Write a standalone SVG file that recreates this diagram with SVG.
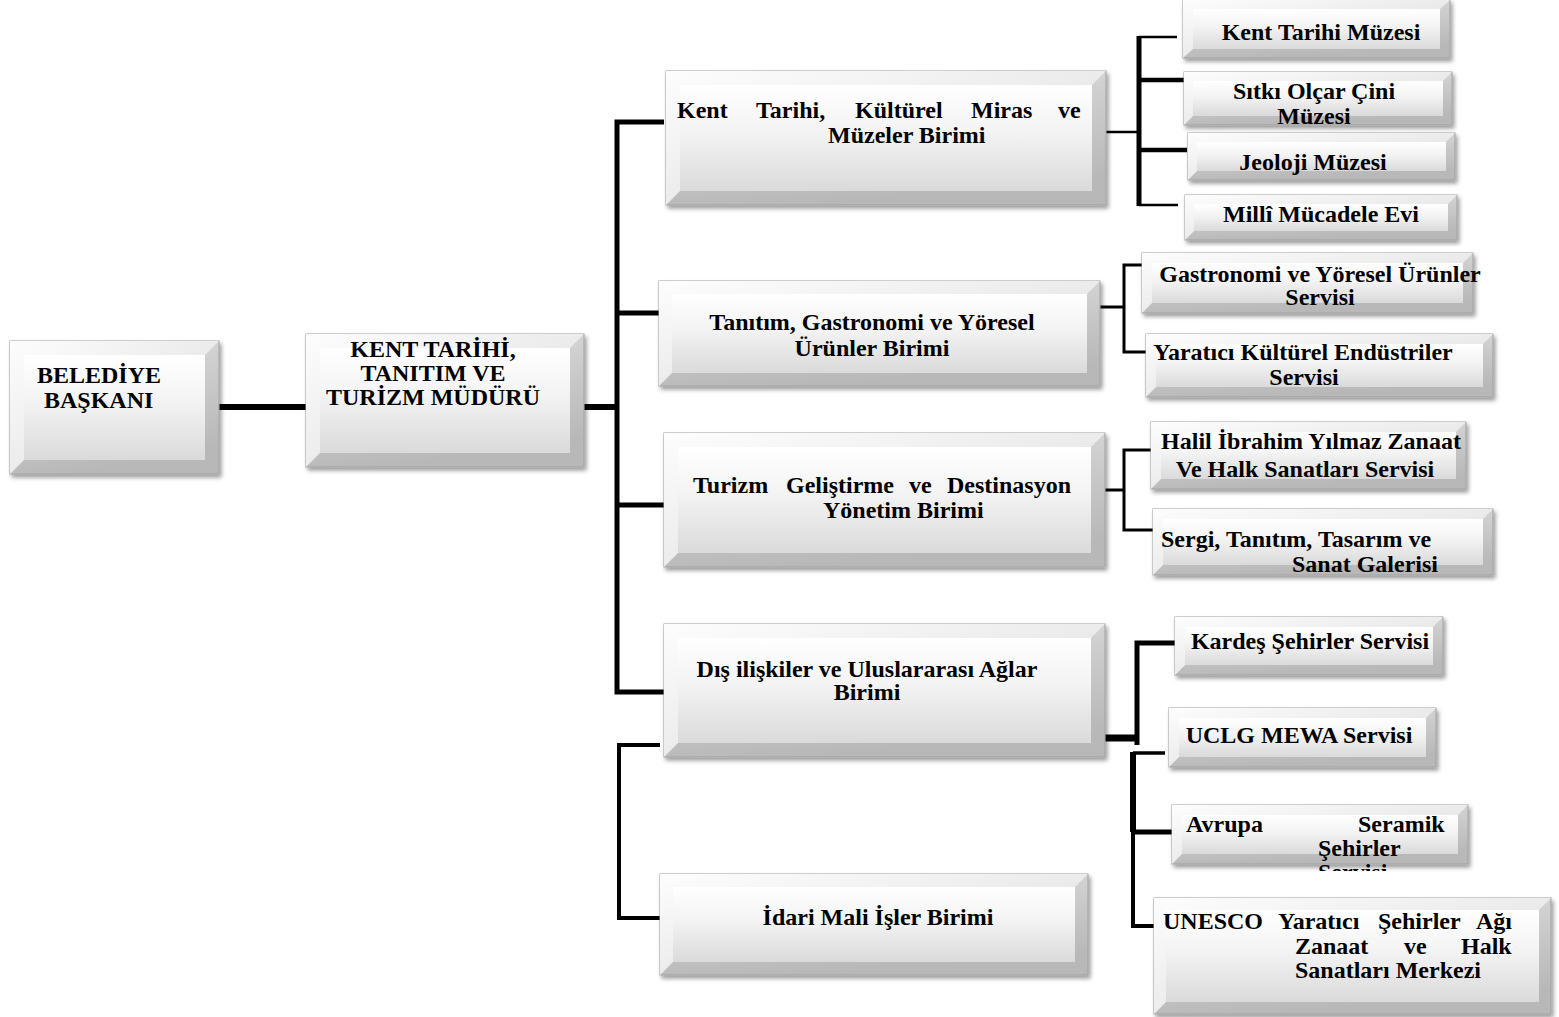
<svg xmlns="http://www.w3.org/2000/svg" width="1559" height="1017" viewBox="0 0 1559 1017">
<defs>
<linearGradient id="gFrame" x1="0" y1="0" x2="0.3" y2="1">
<stop offset="0" stop-color="#dedede"/><stop offset="1" stop-color="#b8b8b8"/>
</linearGradient>
<linearGradient id="gLight" x1="0" y1="0" x2="1" y2="1">
<stop offset="0" stop-color="#fdfdfd"/><stop offset="1" stop-color="#dadada"/>
</linearGradient>
<linearGradient id="gFace" x1="0" y1="0" x2="0" y2="1">
<stop offset="0" stop-color="#ffffff"/><stop offset="0.45" stop-color="#f3f3f3"/><stop offset="1" stop-color="#dadada"/>
</linearGradient>
<filter id="sh" x="-5%" y="-10%" width="112%" height="125%">
<feDropShadow dx="2" dy="3" stdDeviation="2" flood-color="#000" flood-opacity="0.4"/>
</filter>
<clipPath id="clipAvr"><rect x="1170" y="800" width="310" height="71"/></clipPath>
</defs>
<style>
.frame{fill:url(#gFrame);stroke:#a0a0a0;stroke-width:1;filter:url(#sh)}
.light{fill:url(#gLight)}
.face{fill:url(#gFace)}
.t{font-family:"Liberation Serif","Times New Roman",serif;font-weight:bold;font-size:24px;fill:#000}
.c{text-anchor:middle}
.e{text-anchor:end}
.ln{fill:none;stroke:#000;stroke-linejoin:miter;stroke-linecap:butt}
</style>
<rect width="1559" height="1017" fill="#fff"/>

<g id="connectors">
<path class="ln" stroke-width="6" d="M218 407 H306"/>
<path class="ln" stroke-width="6" d="M584 407 H617"/>
<path class="ln" stroke-width="5" d="M664 122 H617 V692 H664"/>
<path class="ln" stroke-width="5" d="M617 313 H659"/>
<path class="ln" stroke-width="5" d="M617 505 H664"/>
<path class="ln" stroke-width="4" d="M660 745 H619 V918 H660"/>
<path class="ln" stroke-width="2.5" d="M1100 132 H1139"/>
<path class="ln" stroke-width="5" d="M1139 36 V206"/>
<path class="ln" stroke-width="2.5" d="M1139 37 H1177"/>
<path class="ln" stroke-width="4.5" d="M1139 80 H1184"/>
<path class="ln" stroke-width="4.5" d="M1139 150 H1187"/>
<path class="ln" stroke-width="2.5" d="M1139 205 H1178"/>
<path class="ln" stroke-width="3" d="M1100 307 H1124"/>
<path class="ln" stroke-width="3" d="M1143 265 H1124 V352 H1147"/>
<path class="ln" stroke-width="3" d="M1098 490 H1124"/>
<path class="ln" stroke-width="3" d="M1151 450 H1124 V530 H1153"/>
<path class="ln" stroke-width="7" d="M1097 738 H1137"/>
<path class="ln" stroke-width="5" d="M1175 643 H1137 V745"/>
<path class="ln" stroke-width="3.5" d="M1133 753 H1165"/>
<path class="ln" stroke-width="6" d="M1133 752 V832"/>
<path class="ln" stroke-width="4" d="M1133 830 V926 H1155"/>
<path class="ln" stroke-width="5" d="M1133 832 H1173"/>
</g>

<g id="n-baskan">
<rect class="frame" x="10" y="341" width="209" height="133"/>
<polygon class="light" points="10,341 219,341 205,355 24,355 24,460 10,474"/>
<rect class="face" x="24" y="355" width="181" height="105"/>
<text class="t" x="37" y="383">BELEDİYE</text>
<text class="t" x="44" y="408">BAŞKANI</text>
</g>

<g id="n-mudur">
<rect class="frame" x="306" y="334" width="278" height="133"/>
<polygon class="light" points="306,334 584,334 570,348 320,348 320,453 306,467"/>
<rect class="face" x="320" y="348" width="250" height="105"/>
<text class="t c" x="433" y="357">KENT TARİHİ,</text>
<text class="t c" x="433" y="381">TANITIM VE</text>
<text class="t c" x="433" y="405">TURİZM MÜDÜRÜ</text>
</g>

<g id="n-kentbirim">
<rect class="frame" x="666" y="71" width="440" height="134"/>
<polygon class="light" points="666,71 1106,71 1092,85 680,85 680,191 666,205"/>
<rect class="face" x="680" y="85" width="412" height="106"/>
<text class="t" y="118"><tspan x="677">Kent</tspan><tspan x="756">Tarihi,</tspan><tspan x="855">Kültürel</tspan><tspan x="971">Miras</tspan><tspan x="1058">ve</tspan></text>
<text class="t" x="828" y="143">Müzeler Birimi</text>
</g>

<g id="n-tanitim">
<rect class="frame" x="659" y="281" width="441" height="105"/>
<polygon class="light" points="659,281 1100,281 1087,294 672,294 672,373 659,386"/>
<rect class="face" x="672" y="294" width="415" height="79"/>
<text class="t c" x="872" y="330">Tanıtım, Gastronomi ve Yöresel</text>
<text class="t c" x="872" y="356">Ürünler Birimi</text>
</g>

<g id="n-turizm">
<rect class="frame" x="664" y="433" width="441" height="134"/>
<polygon class="light" points="664,433 1105,433 1091,447 678,447 678,553 664,567"/>
<rect class="face" x="678" y="447" width="413" height="106"/>
<text class="t" y="493"><tspan x="693">Turizm</tspan><tspan x="786">Geliştirme</tspan><tspan x="909">ve</tspan><tspan x="947">Destinasyon</tspan></text>
<text class="t" x="823" y="518">Yönetim Birimi</text>
</g>

<g id="n-dis">
<rect class="frame" x="664" y="624" width="441" height="133"/>
<polygon class="light" points="664,624 1105,624 1091,638 678,638 678,743 664,757"/>
<rect class="face" x="678" y="638" width="413" height="105"/>
<text class="t c" x="867" y="677">Dış ilişkiler ve Uluslararası Ağlar</text>
<text class="t c" x="867" y="700">Birimi</text>
</g>

<g id="n-idari">
<rect class="frame" x="660" y="874" width="428" height="101"/>
<polygon class="light" points="660,874 1088,874 1075,887 673,887 673,962 660,975"/>
<rect class="face" x="673" y="887" width="402" height="75"/>
<text class="t c" x="878" y="925">İdari Mali İşler Birimi</text>
</g>

<g id="n-kentmuzesi">
<rect class="frame" x="1183" y="0" width="267" height="58"/>
<polygon class="light" points="1183,0 1450,0 1440,9 1193,9 1193,49 1183,58"/>
<rect class="face" x="1193" y="9" width="247" height="40"/>
<text class="t c" x="1321" y="40">Kent Tarihi Müzesi</text>
</g>

<g id="n-sitki">
<rect class="frame" x="1184" y="72" width="268" height="53"/>
<polygon class="light" points="1184,72 1452,72 1443,81 1193,81 1193,116 1184,125"/>
<rect class="face" x="1193" y="81" width="250" height="35"/>
<text class="t c" x="1314" y="99">Sıtkı Olçar Çini</text>
<text class="t c" x="1314" y="124">Müzesi</text>
</g>

<g id="n-jeoloji">
<rect class="frame" x="1188" y="133" width="267" height="47"/>
<polygon class="light" points="1188,133 1455,133 1446,142 1197,142 1197,171 1188,180"/>
<rect class="face" x="1197" y="142" width="249" height="29"/>
<text class="t c" x="1313" y="170">Jeoloji Müzesi</text>
</g>

<g id="n-milli">
<rect class="frame" x="1185" y="195" width="272" height="45"/>
<polygon class="light" points="1185,195 1457,195 1448,204 1194,204 1194,231 1185,240"/>
<rect class="face" x="1194" y="204" width="254" height="27"/>
<text class="t c" x="1321" y="222">Millî Mücadele Evi</text>
</g>

<g id="n-gastro">
<rect class="frame" x="1142" y="253" width="331" height="60"/>
<polygon class="light" points="1142,253 1473,253 1463,263 1152,263 1152,303 1142,313"/>
<rect class="face" x="1152" y="263" width="311" height="40"/>
<text class="t c" x="1320" y="282">Gastronomi ve Yöresel Ürünler</text>
<text class="t c" x="1320" y="305">Servisi</text>
</g>

<g id="n-yaratici">
<rect class="frame" x="1146" y="334" width="347" height="63"/>
<polygon class="light" points="1146,334 1493,334 1483,344 1156,344 1156,387 1146,397"/>
<rect class="face" x="1156" y="344" width="327" height="43"/>
<text class="t c" x="1303" y="360">Yaratıcı Kültürel Endüstriler</text>
<text class="t c" x="1304" y="385">Servisi</text>
</g>

<g id="n-halil">
<rect class="frame" x="1151" y="422" width="315" height="67"/>
<polygon class="light" points="1151,422 1466,422 1456,432 1161,432 1161,479 1151,489"/>
<rect class="face" x="1161" y="432" width="295" height="47"/>
<text class="t c" x="1311" y="449">Halil İbrahim Yılmaz Zanaat</text>
<text class="t c" x="1305" y="477">Ve Halk Sanatları Servisi</text>
</g>

<g id="n-sergi">
<rect class="frame" x="1153" y="509" width="340" height="66"/>
<polygon class="light" points="1153,509 1493,509 1483,519 1163,519 1163,565 1153,575"/>
<rect class="face" x="1163" y="519" width="320" height="46"/>
<text class="t" x="1161" y="547">Sergi, Tanıtım, Tasarım ve</text>
<text class="t e" x="1438" y="572">Sanat Galerisi</text>
</g>

<g id="n-kardes">
<rect class="frame" x="1175" y="617" width="268" height="58"/>
<polygon class="light" points="1175,617 1443,617 1433,627 1185,627 1185,665 1175,675"/>
<rect class="face" x="1185" y="627" width="248" height="38"/>
<text class="t c" x="1310" y="649">Kardeş Şehirler Servisi</text>
</g>

<g id="n-uclg">
<rect class="frame" x="1169" y="708" width="267" height="59"/>
<polygon class="light" points="1169,708 1436,708 1426,718 1179,718 1179,757 1169,767"/>
<rect class="face" x="1179" y="718" width="247" height="39"/>
<text class="t c" x="1299" y="743">UCLG MEWA Servisi</text>
</g>

<g id="n-avrupa">
<rect class="frame" x="1172" y="805" width="296" height="59"/>
<polygon class="light" points="1172,805 1468,805 1458,815 1182,815 1182,854 1172,864"/>
<rect class="face" x="1182" y="815" width="276" height="39"/>
<g clip-path="url(#clipAvr)">
<text class="t" y="832"><tspan x="1186">Avrupa</tspan><tspan x="1358">Seramik</tspan></text>
<text class="t" x="1318" y="856">Şehirler</text>
<text class="t" x="1318" y="880">Servisi</text>
</g>
</g>

<g id="n-unesco">
<rect class="frame" x="1154" y="898" width="397" height="116"/>
<polygon class="light" points="1154,898 1551,898 1539,910 1166,910 1166,1002 1154,1014"/>
<rect class="face" x="1166" y="910" width="373" height="92"/>
<text class="t" y="929"><tspan x="1163">UNESCO</tspan><tspan x="1278">Yaratıcı</tspan><tspan x="1378">Şehirler</tspan><tspan x="1476">Ağı</tspan></text>
<text class="t" y="954"><tspan x="1295">Zanaat</tspan><tspan x="1404">ve</tspan><tspan x="1461">Halk</tspan></text>
<text class="t" x="1295" y="978">Sanatları Merkezi</text>
</g>
</svg>
